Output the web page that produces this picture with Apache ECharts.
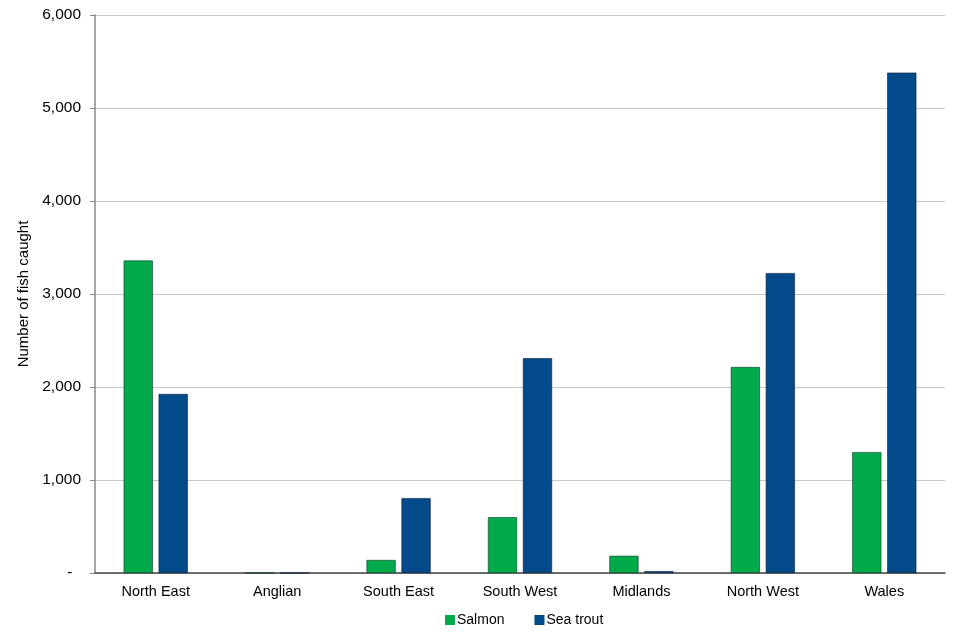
<!DOCTYPE html>
<html><head><meta charset="utf-8">
<script src="https://cdn.jsdelivr.net/npm/echarts@6/dist/echarts.min.js"></script>
<style>html,body{margin:0;padding:0;background:#fff}#c{width:960px;height:640px}</style>
</head><body><div id="c"></div>
<script>
const categories = ['North East','Anglian','South East','South West','Midlands','North West','Wales'];
const salmon = [3360, 0, 140, 600, 185, 2215, 1300];
const seaTrout = [1925, 0, 805, 2310, 20, 3225, 5380];
const yTicks = [0,1000,2000,3000,4000,5000,6000];

const chart = echarts.init(document.getElementById('c'));
const font = 'Liberation Sans, Arial, sans-serif';
chart.setOption({
  animation:false,
  grid:{left:95,right:15,top:15,bottom:67,containLabel:false},
  legend:{bottom:8,left:440,itemWidth:10,itemHeight:10,itemGap:30,icon:'rect',
    itemStyle:{borderWidth:0},
    textStyle:{fontFamily:font,fontSize:14,color:'#000',padding:[0,0,0,-3]},
    data:['Salmon','Sea trout']},
  xAxis:{type:'category',data:categories,
    axisLine:{lineStyle:{color:'#444',width:1.5}},axisTick:{show:false},
    axisLabel:{fontFamily:font,fontSize:14.5,color:'#000',margin:11}},
  yAxis:{type:'value',min:0,max:6000,interval:1000,
    name:'Number of fish caught',nameLocation:'middle',nameGap:55,
    nameTextStyle:{fontFamily:font,fontSize:15,color:'#000'},
    axisLine:{show:true,lineStyle:{color:'#888',width:1.5}},
    axisTick:{show:true,length:5,lineStyle:{color:'#888'}},
    splitLine:{lineStyle:{color:'#c8c8c8',width:1.2}},
    axisLabel:{fontFamily:font,fontSize:15.5,color:'#000',margin:14,
      formatter:v=> v===0 ? '-  ' : v.toLocaleString('en-US')}},
  series:[
    {name:'Salmon',type:'bar',data:salmon,barWidth:'24%',barGap:'20%',
      itemStyle:{color:'#00AA4B',borderColor:'#0d3a26',borderWidth:0.6}},
    {name:'Sea trout',type:'bar',data:seaTrout,barWidth:'24%',barGap:'20%',
      itemStyle:{color:'#024A8A',borderColor:'#0a1f3a',borderWidth:0.6}}
  ]
});
</script></body></html>
